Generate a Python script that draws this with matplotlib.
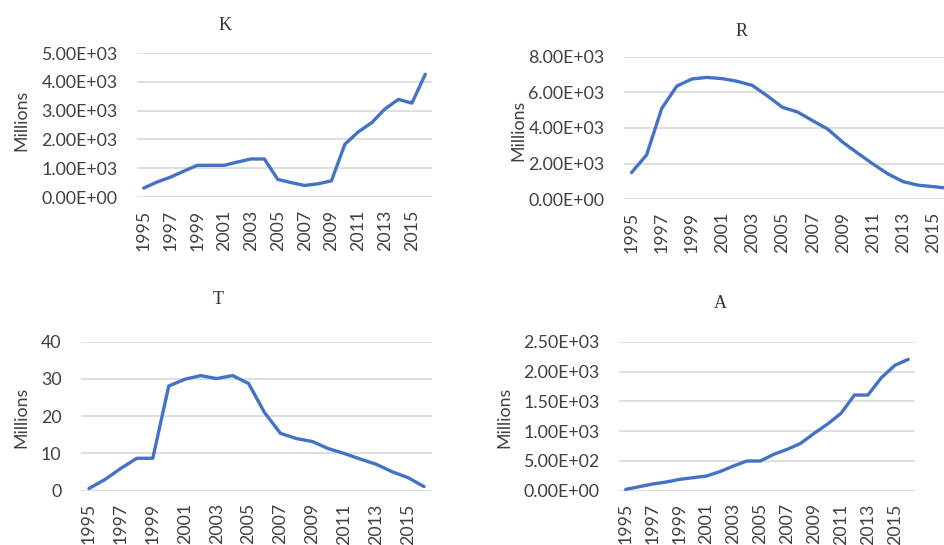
import matplotlib
matplotlib.use("Agg")
import matplotlib.pyplot as plt
from matplotlib.ticker import FuncFormatter

years = list(range(1995, 2017))
tick_years = [y for y in years if y % 2 == 1]

k_values = [310, 520, 690, 900, 1100, 1100, 1100, 1215, 1320, 1320, 610, 500,
            400, 460, 560, 1830, 2260, 2580, 3060, 3390, 3260, 4260]
r_values = [1500, 2490, 5100, 6350, 6750, 6840, 6770, 6620, 6390, 5800, 5160, 4900,
            4410, 3940, 3200, 2580, 1980, 1420, 990, 790, 710, 620]
t_values = [0.6, 3.0, 6.0, 8.7, 8.7, 28.1, 29.9, 30.9, 30.1, 30.9, 28.8, 21.0,
            15.4, 14.0, 13.2, 11.3, 10.0, 8.5, 7.1, 5.1, 3.5, 1.1]
a_values = [22, 67, 112, 145, 190, 218, 246, 320, 414, 498, 498, 610,
            694, 794, 962, 1118, 1298, 1605, 1605, 1896, 2103, 2204]

W, H = 944, 545
fig = plt.figure(figsize=(W / 100, H / 100), dpi=100)
fig.patch.set_facecolor("white")

LINE = "#4472C4"
GRID = "#D9D9D9"
TXT = "#404040"
tick_font = "Lato"
title_font = "Liberation Serif"
FS = 12.8

def px_axes(left, right, top, bottom):
    return fig.add_axes([left / W, 1 - bottom / H, (right - left) / W, (bottom - top) / H])

def panel(left, right, top, bottom, values, ymax, ystep, sci, title, title_xy, ylabel_xy):
    ax = px_axes(left, right, top, bottom)
    x = list(range(len(years)))
    ax.plot(x, values, color=LINE, lw=2.4, solid_joinstyle="round", solid_capstyle="round", zorder=3)
    ax.set_xlim(-0.5, len(years) - 0.5)
    ax.set_ylim(0, ymax)
    yt = [i * ystep for i in range(int(round(ymax / ystep)) + 1)]
    ax.set_yticks(yt)
    if sci:
        ax.yaxis.set_major_formatter(FuncFormatter(lambda v, p: "{:.2E}".format(v)))
    else:
        ax.yaxis.set_major_formatter(FuncFormatter(lambda v, p: "{:d}".format(int(v))))
    ax.set_xticks([years.index(y) for y in tick_years])
    ax.set_xticklabels([str(y) for y in tick_years], rotation=90)
    for s in ax.spines.values():
        s.set_visible(False)
    ax.grid(axis="y", color=GRID, lw=1.2, zorder=0)
    ax.tick_params(axis="y", length=0, pad=14, labelsize=FS, labelcolor=TXT)
    ax.tick_params(axis="x", length=0, pad=9, labelsize=FS, labelcolor=TXT)
    for lab in ax.get_xticklabels() + ax.get_yticklabels():
        lab.set_fontfamily(tick_font)
    fig.text(title_xy[0] / W, 1 - title_xy[1] / H, title, ha="center", va="center",
             fontsize=13, family=title_font, color="#333333")
    fig.text(ylabel_xy[0] / W, 1 - ylabel_xy[1] / H, "Millions", ha="center", va="center",
             rotation=90, fontsize=FS, family=tick_font, color=TXT)
    return ax

panel(137, 432, 53, 197, k_values, 5000, 1000, True, "K", (225, 26), (21, 120))
panel(624, 956, 56.7, 199.3, r_values, 8000, 2000, True, "R", (742, 31), (518, 130))
panel(81, 432, 341.7, 490.7, t_values, 40, 10, False, "T", (218, 300), (21, 417))
panel(619, 915, 341.7, 490.7, a_values, 2500, 500, True, "A", (720, 303), (504, 417))

fig.savefig("out.png", dpi=100, facecolor="white")
